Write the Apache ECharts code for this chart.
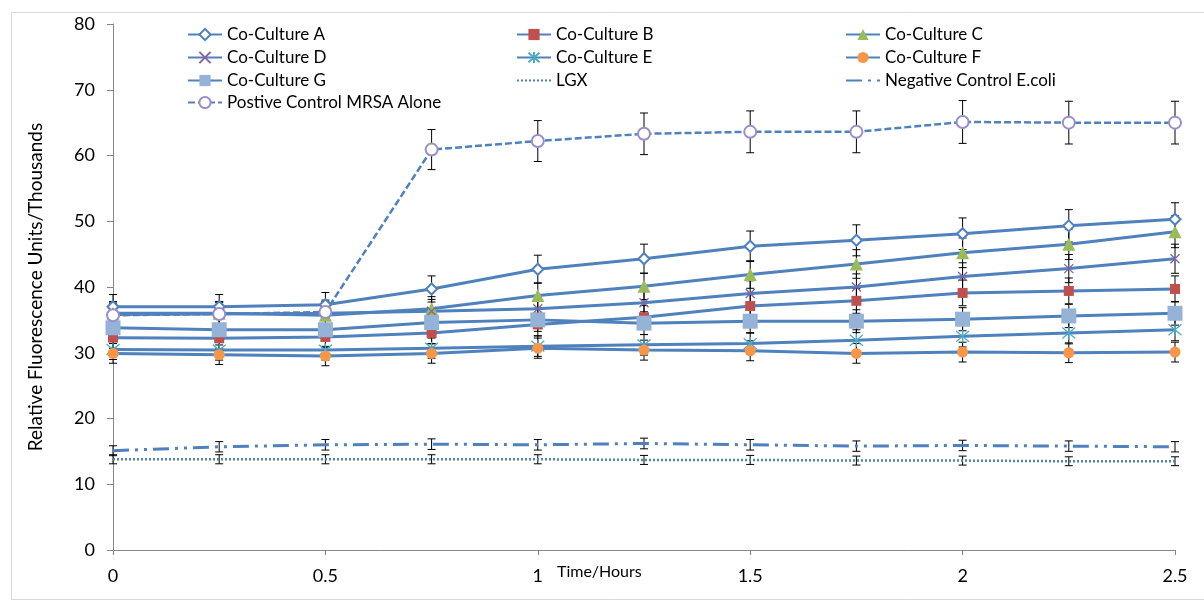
<!DOCTYPE html>
<html>
<head>
<meta charset="utf-8">
<script src="https://cdn.jsdelivr.net/npm/echarts@6/dist/echarts.min.js"></script>
<style>
html,body{margin:0;padding:0;background:#fff;}
#chart{width:1204px;height:603px;}
</style>
</head>
<body>
<div id="chart"></div>
<script>
const times = [0, 0.25, 0.5, 0.75, 1, 1.25, 1.5, 1.75, 2, 2.25, 2.5];
const xTicks = ['0', '0.5', '1', '1.5', '2', '2.5'];
const yTicks = ['0', '10', '20', '30', '40', '50', '60', '70', '80'];

const coA = [37.0, 37.0, 37.3, 39.7, 42.7, 44.3, 46.2, 47.1, 48.1, 49.3, 50.3];
const coB = [32.3, 32.2, 32.4, 33.0, 34.3, 35.4, 37.1, 37.9, 39.1, 39.4, 39.7];
const coC = [36.0, 36.0, 35.7, 36.7, 38.7, 40.1, 41.9, 43.5, 45.2, 46.5, 48.4];
const coD = [35.8, 35.9, 36.0, 36.3, 36.7, 37.6, 39.0, 40.0, 41.6, 42.8, 44.3];
const coE = [30.5, 30.4, 30.4, 30.7, 31.0, 31.2, 31.4, 31.9, 32.5, 33.0, 33.5];
const coF = [29.9, 29.7, 29.5, 29.9, 30.7, 30.4, 30.3, 29.9, 30.1, 30.0, 30.1];
const coG = [33.8, 33.5, 33.5, 34.6, 35.0, 34.5, 34.8, 34.8, 35.1, 35.6, 36.0];
const lgx = [13.8, 13.8, 13.8, 13.8, 13.8, 13.7, 13.7, 13.6, 13.6, 13.5, 13.5];
const negEcoli = [15.1, 15.7, 16.0, 16.1, 16.0, 16.2, 16.0, 15.8, 15.9, 15.8, 15.7];
const posMRSA = [35.7, 35.9, 36.2, 60.9, 62.2, 63.3, 63.6, 63.6, 65.1, 65.0, 65.0];

const errPct = 0.05; // percentage error bars

const names = ['Co-Culture A','Co-Culture B','Co-Culture C','Co-Culture D','Co-Culture E','Co-Culture F','Co-Culture G','LGX','Negative Control E.coli','Postive Control MRSA Alone'];
const values = [coA, coB, coC, coD, coE, coF, coG, lgx, negEcoli, posMRSA];

const LINE = '#4F81BD';
const FONT = 'Lato, "Liberation Sans", sans-serif';

const xPath = 'path://M0,0L10,10M10,0L0,10';
const starPath = 'path://M0,0L10,10M10,0L0,10M5,-1L5,11';
const CLEAR = 'rgba(0,0,0,0)';

const styles = [
  {symbol:'emptyDiamond', symbolSize:11, itemStyle:{color:'#4F81BD', borderColor:'#4F81BD', borderWidth:1.2}},
  {symbol:'rect', symbolSize:10, itemStyle:{color:'#C0504D'}},
  {symbol:'triangle', symbolSize:13, itemStyle:{color:'#9BBB59'}},
  {symbol:xPath, symbolSize:9, itemStyle:{color:'#8064A2', borderColor:'#8064A2', borderWidth:1.3}},
  {symbol:starPath, symbolSize:13, itemStyle:{color:'#4BACC6', borderColor:'#4BACC6', borderWidth:1.3}},
  {symbol:'circle', symbolSize:11, itemStyle:{color:'#F79646'}},
  {symbol:'rect', symbolSize:15, itemStyle:{color:'#95B3D7'}},
  {symbol:'circle', symbolSize:1, hide:true, itemStyle:{color:CLEAR, borderColor:CLEAR, opacity:0}, dash:[2,2], width:2.5},
  {symbol:'circle', symbolSize:1, hide:true, itemStyle:{color:CLEAR, borderColor:CLEAR, opacity:0}, dash:[16,6,3,6,3,6], width:3},
  {symbol:'emptyCircle', symbolSize:12, itemStyle:{color:'#9B8FC8', borderColor:'#9B8FC8', borderWidth:1.2}, dash:[7,3], width:2.5}
];

const series = [];
// error bars
const errData = [];
values.forEach(v => v.forEach((y, i) => errData.push([times[i], y, y * errPct])));
series.push({
  type:'custom', name:'err', silent:true, z:1,
  data: errData,
  encode:{x:0, y:1},
  renderItem:(params, api) => {
    const x = api.value(0), y = api.value(1), e = api.value(2);
    const t = api.coord([x, y + e]), b = api.coord([x, y - e]);
    const w = 4, st = {stroke:'#000', lineWidth:1};
    return {type:'group', children:[
      {type:'line', shape:{x1:t[0], y1:t[1], x2:b[0], y2:b[1]}, style:st},
      {type:'line', shape:{x1:t[0]-w, y1:t[1], x2:t[0]+w, y2:t[1]}, style:st},
      {type:'line', shape:{x1:b[0]-w, y1:b[1], x2:b[0]+w, y2:b[1]}, style:st}
    ]};
  }
});

names.forEach((n, k) => {
  const s = styles[k];
  series.push({
    type:'line', name:n, z:2,
    data: values[k].map((y, i) => [times[i], y]),
    symbol: s.symbol, symbolSize: s.symbolSize, showSymbol: !s.hide,
    itemStyle: s.itemStyle,
    lineStyle: {color: LINE, width: s.width || 3, type: s.dash || 'solid'},
    emphasis: {disabled: true},
    animation: false
  });
});

const colX = [187, 516, 845];
const rowY = [33, 56, 79, 101];
const legendOrder = ['Co-Culture A','Co-Culture B','Co-Culture C','Co-Culture D','Co-Culture E','Co-Culture F','Co-Culture G','LGX','Negative Control E.coli','Postive Control MRSA Alone'];
const legends = legendOrder.map((n, i) => ({
  data:[n],
  left: colX[i % 3],
  top: rowY[Math.floor(i / 3)] - 7,
  padding: 0,
  itemWidth: 34, itemHeight: 14, itemGap: 0,
  selectedMode:false,
  textStyle:{fontFamily:FONT, fontSize:17, color:'#000'}
}));

const chart = echarts.init(document.getElementById('chart'));
chart.setOption({
  backgroundColor:'#fff',
  animation:false,
  legend: legends,
  grid:{left:113, right:29, top:24, bottom:53, containLabel:false},
  xAxis:{
    type:'value', min:0, max:2.5, interval:0.5,
    axisLine:{lineStyle:{color:'#868686', width:1}},
    axisTick:{show:true, length:5, lineStyle:{color:'#868686'}},
    splitLine:{show:false},
    axisLabel:{margin:17, fontFamily:FONT, fontSize:18, color:'#000',
      formatter:(v) => xTicks[Math.round(v / 0.5)]}
  },
  yAxis:{
    type:'value', min:0, max:80, interval:10,
    name:'Relative Fluorescence Units/Thousands', nameLocation:'middle', nameGap:68,
    nameTextStyle:{fontFamily:FONT, fontSize:19, color:'#000'},
    axisLine:{show:true, lineStyle:{color:'#868686', width:1}},
    axisTick:{show:true, length:6, lineStyle:{color:'#868686'}},
    splitLine:{show:false},
    axisLabel:{margin:18, fontFamily:FONT, fontSize:18, color:'#000',
      formatter:(v) => yTicks[Math.round(v / 10)]}
  },
  graphic:[
    {type:'rect', left:9, top:10, shape:{width:1200, height:587}, style:{fill:'none', stroke:'#D9D9D9', lineWidth:1}, silent:true, z:-1},
    {type:'text', left:557, top:564, style:{text:'Time/Hours', font:'16px ' + FONT, fill:'#000'}}
  ],
  series: series
});
</script>
</body>
</html>
